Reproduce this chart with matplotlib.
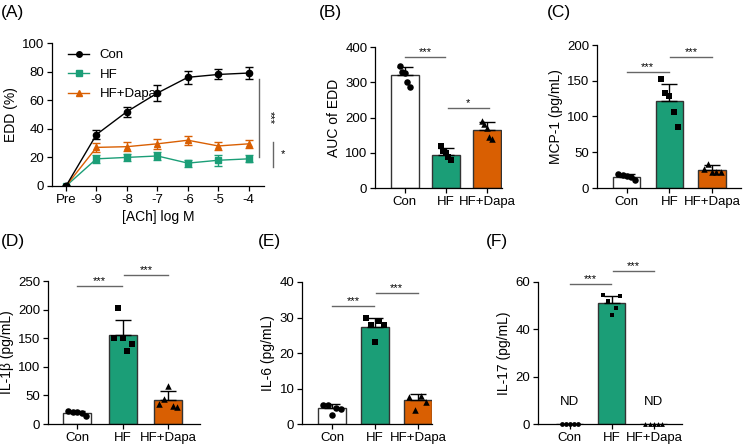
import numpy as np
import matplotlib
matplotlib.use("Agg")
import matplotlib.pyplot as plt
from matplotlib.lines import Line2D

plt.rcParams['font.family'] = ['Liberation Sans', 'DejaVu Sans']
plt.rcParams['font.size'] = 9.5

# --- data ---
groups = ["Con", "HF", "HF+Dapa"]
ach_labels = ["Pre", "-9", "-8", "-7", "-6", "-5", "-4"]

edd_con = [0, 36, 52, 65, 76, 78, 79]
edd_con_err = [0, 3, 3.5, 5.5, 4.5, 3.5, 4]
edd_hf = [0, 19, 20, 21, 16, 18, 19]
edd_hf_err = [0, 3, 2.5, 3, 2.5, 4, 2.5]
edd_dapa = [0, 27, 27.5, 29.5, 32, 28, 29.5]
edd_dapa_err = [0, 3, 3, 3.5, 3, 3, 3]

auc_mean = [320, 95, 165]
auc_sd = [22, 18, 22]
auc_pts = [[345, 330, 325, 300, 287], [118, 105, 100, 88, 80], [190, 182, 170, 145, 140]]

mcp_mean = [16, 121, 25]
mcp_sd = [3, 25, 7]
mcp_pts = [[19, 18, 17, 15, 11], [152, 133, 128, 106, 86], [27, 33, 23, 22, 22]]

il1b_mean = [20, 155, 42]
il1b_sd = [2, 27, 15]
il1b_pts = [[22, 21, 21, 19, 14], [150, 202, 150, 128, 140], [35, 44, 66, 32, 30]]

il6_mean = [4.5, 27.2, 6.8]
il6_sd = [1.0, 2.8, 1.6]
il6_pts = [[5.4, 5.3, 2.5, 4.5, 4.3], [30, 27.8, 23, 29, 28], [7.5, 3.9, 8, 6.2]]

il17_mean = [0, 51, 0]
il17_sd = [0, 3, 0]
il17_pts = [[0, 0, 0, 0, 0], [54.5, 52, 46, 49, 54], [0, 0, 0, 0, 0]]

# --- style ---
c_hf = "#1b9e77"
c_dapa = "#d95f02"
bar_colors = ["white", c_hf, c_dapa]
markers = ["o", "s", "^"]
W, H = 743, 448

fig = plt.figure(figsize=(W / 100, H / 100), dpi=100)


def add_ax(left, right, top, bottom):
    return fig.add_axes([left / W, 1 - bottom / H, (right - left) / W, (bottom - top) / H])


def style(ax):
    for s in ["top", "right"]:
        ax.spines[s].set_visible(False)
    for s in ["left", "bottom"]:
        ax.spines[s].set_linewidth(0.9)
    ax.tick_params(direction="out", length=3.5, width=0.9, labelsize=9.5, pad=2)


def sig(ax, x1, x2, y, txt):
    ax.plot([x1, x2], [y, y], color="#666666", lw=1, clip_on=False)
    ax.text((x1 + x2) / 2, y, txt, ha="center", va="bottom", fontsize=8, clip_on=False)


def bars(ax, mean, sd, pts, ylim, yticks, ylabel, xlim, width, spread=0.2, msize=22):
    x = np.arange(3)
    ax.bar(x, mean, width=width, color=bar_colors, edgecolor="#333333", linewidth=1, zorder=1)
    for i in range(3):
        if sd[i] > 0:
            ax.errorbar(x[i], mean[i], yerr=[[0], [sd[i]]], fmt="none", ecolor="black",
                        elinewidth=1, capsize=6, capthick=1, zorder=2)
        n = len(pts[i])
        offs = np.linspace(-spread, spread, n)
        ax.scatter(x[i] + offs, pts[i], marker=markers[i], s=msize, color="black",
                   zorder=3, clip_on=False, linewidths=0)
    ax.set_xticks(x)
    ax.set_xticklabels(groups)
    ax.set_ylim(*ylim)
    ax.set_yticks(yticks)
    ax.set_xlim(*xlim)
    ax.set_ylabel(ylabel, fontsize=10, labelpad=3)
    style(ax)


# (A) dose response
axA = add_ax(52, 264, 43, 186)
xa = np.arange(len(ach_labels))
axA.errorbar(xa, edd_con, yerr=edd_con_err, color="black", marker="o", ms=4.5, lw=1,
             capsize=3, elinewidth=1, label="Con", zorder=3)
axA.errorbar(xa, edd_hf, yerr=edd_hf_err, color=c_hf, marker="s", ms=4.5, lw=1,
             capsize=3, elinewidth=1, label="HF", zorder=2)
axA.errorbar(xa, edd_dapa, yerr=edd_dapa_err, color=c_dapa, marker="^", ms=4.5, lw=1,
             capsize=3, elinewidth=1, label="HF+Dapa", zorder=2)
axA.plot(0, 0, "o", color="black", ms=4.5, zorder=4)
axA.set_xticks(xa)
axA.set_xticklabels(ach_labels)
axA.set_xlim(-0.46, 6.5)
axA.set_ylim(0, 100)
axA.set_yticks([0, 20, 40, 60, 80, 100])
axA.set_ylabel("EDD (%)", fontsize=10, labelpad=3)
axA.set_xlabel("[ACh] log M", fontsize=10, labelpad=3)
style(axA)
handles = [Line2D([], [], color="black", marker="o", ms=4, lw=1),
           Line2D([], [], color=c_hf, marker="s", ms=4, lw=1),
           Line2D([], [], color=c_dapa, marker="^", ms=4, lw=1)]
axA.legend(handles, groups, loc="upper left", bbox_to_anchor=(0.02, 1.04), frameon=False,
           fontsize=9.5, handlelength=1.6, labelspacing=0.55)
axA.plot([6.33, 6.33], [75, 20], color="#666666", lw=1, clip_on=False)
axA.text(6.68, 48, "***", rotation=270, ha="center", va="center", fontsize=8, clip_on=False)
axA.plot([6.8, 6.8], [31, 13], color="#666666", lw=1, clip_on=False)
axA.text(7.12, 22, "*", ha="center", va="center", fontsize=8, clip_on=False)

# (B) AUC
axB = add_ax(375, 502, 47, 188)
bars(axB, auc_mean, auc_sd, auc_pts, (0, 400), [0, 100, 200, 300, 400], "AUC of EDD",
     (-0.73, 2.37), 0.68, spread=0.12)
sig(axB, 0.0, 0.98, 372, "***")
sig(axB, 1.05, 2.05, 226, "*")

# (C) MCP-1
axC = add_ax(597, 741, 45, 188)
bars(axC, mcp_mean, mcp_sd, mcp_pts, (0, 200), [0, 50, 100, 150, 200], "MCP-1 (pg/mL)",
     (-0.7, 2.68), 0.64)
sig(axC, 0.0, 0.98, 162, "***")
sig(axC, 1.02, 2.0, 183, "***")

# (D) IL-1b
axD = add_ax(48, 200, 281, 424)
bars(axD, il1b_mean, il1b_sd, il1b_pts, (0, 250), [0, 50, 100, 150, 200, 250],
     "IL-1\u03b2 (pg/mL)", (-0.64, 2.7), 0.62)
sig(axD, 0.0, 0.98, 241, "***")
sig(axD, 1.02, 2.0, 260, "***")

# (E) IL-6
axE = add_ax(302, 432, 282, 424)
bars(axE, il6_mean, il6_sd, il6_pts, (0, 40), [0, 10, 20, 30, 40], "IL-6 (pg/mL)",
     (-0.7, 2.33), 0.66)
sig(axE, 0.0, 0.98, 33.2, "***")
sig(axE, 1.02, 2.0, 36.9, "***")

# (F) IL-17
axF = add_ax(538, 682, 282, 424)
bars(axF, il17_mean, il17_sd, il17_pts, (0, 60), [0, 20, 40, 60], "IL-17 (pg/mL)",
     (-0.76, 2.67), 0.64, msize=12)
axF.text(0, 9.3, "ND", ha="center", va="center", fontsize=9.5)
axF.text(2, 9.3, "ND", ha="center", va="center", fontsize=9.5)
sig(axF, 0.0, 0.98, 59, "***")
sig(axF, 1.02, 2.0, 64.6, "***")

# panel letters
for lbl, px, py in [("(A)", 1, 13), ("(B)", 319, 13), ("(C)", 547, 13),
                    ("(D)", 1, 241), ("(E)", 258, 241), ("(F)", 486, 241)]:
    fig.text(px / W, 1 - py / H, lbl, fontsize=12.5, ha="left", va="center")

fig.savefig("out.png", dpi=100)
